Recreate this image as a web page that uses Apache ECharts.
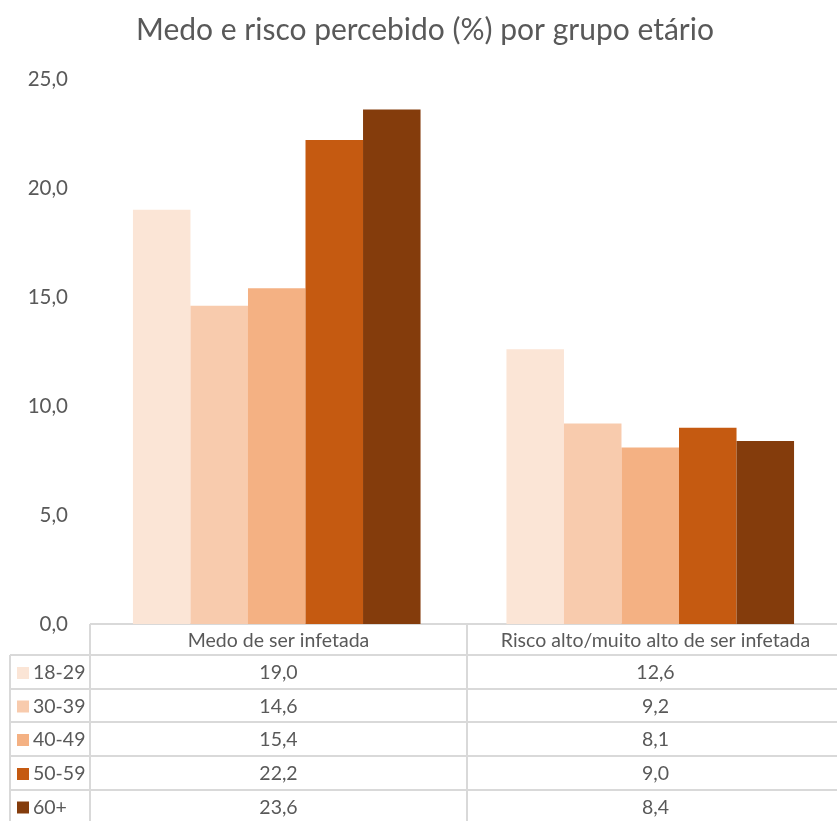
<!DOCTYPE html>
<html>
<head>
<meta charset="utf-8">
<script src="https://cdn.jsdelivr.net/npm/echarts@6/dist/echarts.min.js"></script>
<style>
  html, body { margin: 0; padding: 0; background: #fff; }
  #echarts { width: 837px; height: 821px; }
</style>
</head>
<body>
<div id="echarts"></div>
<script>
// dados
var categories = ['Medo de ser infetada', 'Risco alto/muito alto de ser infetada'];
var groups = ['18-29', '30-39', '40-49', '50-59', '60+'];
var s1829 = [19.0, 12.6];
var s3039 = [14.6, 9.2];
var s4049 = [15.4, 8.1];
var s5059 = [22.2, 9.0];
var s60 = [23.6, 8.4];
var yTicks = [0, 5, 10, 15, 20, 25];

var seriesData = [s1829, s3039, s4049, s5059, s60];
var colors = ['#fbe5d6', '#f8cbad', '#f4b183', '#c55a11', '#843c0c'];
var textColor = '#595959';
var lineColor = '#d9d9d9';
var font = 'Lato';

function fmt(v) { return v.toFixed(1).replace('.', ','); }

// posicoes da tabela (o grafico original passa um pouco da margem direita)
var gridLeft = 90, gridRight = -7, width = 837;
var axisY = 624;
var rowTops = [624, 655, 689, 722, 756, 790];
var colW = (width - gridLeft - gridRight) / categories.length;

var graphic = [];
// linhas horizontais
rowTops.forEach(function (y, i) {
    graphic.push({
        type: 'line', silent: true,
        shape: { x1: i === 0 ? gridLeft : 10, y1: y, x2: width, y2: y },
        style: { stroke: lineColor, lineWidth: 2 }
    });
});
// linhas verticais
graphic.push({ type: 'line', shape: { x1: 10, y1: 655, x2: 10, y2: 821 }, style: { stroke: lineColor, lineWidth: 2 } });
for (var c = 0; c < categories.length; c++) {
    var x = gridLeft + c * colW;
    graphic.push({ type: 'line', shape: { x1: x, y1: axisY, x2: x, y2: 821 }, style: { stroke: lineColor, lineWidth: 2 } });
}
// cabecalho
categories.forEach(function (cat, i) {
    graphic.push({
        type: 'text', silent: true,
        x: gridLeft + (i + 0.5) * colW, y: (rowTops[0] + rowTops[1]) / 2 + 1,
        style: { text: cat, fill: textColor, font: '19.5px ' + font, align: 'center', verticalAlign: 'middle' }
    });
});
// linhas de dados
groups.forEach(function (g, r) {
    var top = rowTops[r + 1];
    var bottom = r + 2 < rowTops.length ? rowTops[r + 2] : 823;
    var cy = (top + bottom) / 2 + 1;
    graphic.push({
        type: 'rect', silent: true,
        shape: { x: 17, y: cy - 6, width: 12, height: 12 },
        style: { fill: colors[r] }
    });
    graphic.push({
        type: 'text', silent: true, x: 33, y: cy,
        style: { text: g, fill: textColor, font: '19.5px ' + font, align: 'left', verticalAlign: 'middle' }
    });
    seriesData[r].forEach(function (v, i) {
        graphic.push({
            type: 'text', silent: true,
            x: gridLeft + (i + 0.5) * colW, y: cy,
            style: { text: fmt(v), fill: textColor, font: '19.5px ' + font, align: 'center', verticalAlign: 'middle' }
        });
    });
});

var option = {
    backgroundColor: '#fff',
    color: colors,
    animation: false,
    title: {
        text: 'Medo e risco percebido (%) por grupo etário',
        left: 420,
        textAlign: 'center',
        top: 10,
        textStyle: { color: textColor, fontSize: 30, fontWeight: 'normal', fontFamily: font }
    },
    grid: { left: gridLeft, right: gridRight, top: 79, bottom: 821 - axisY, containLabel: false },
    xAxis: {
        type: 'category',
        data: categories,
        axisLine: { show: false },
        axisTick: { show: false },
        axisLabel: { show: false }
    },
    yAxis: {
        type: 'value',
        min: yTicks[0],
        max: yTicks[yTicks.length - 1],
        interval: 5,
        axisLine: { show: false },
        axisTick: { show: false },
        splitLine: { show: false },
        axisLabel: {
            color: textColor, fontSize: 20.5, fontFamily: font, margin: 22,
            formatter: function (value) { return fmt(value); }
        }
    },
    series: groups.map(function (g, i) {
        return {
            name: g,
            type: 'bar',
            data: seriesData[i],
            barGap: '0%',
            barCategoryGap: '23%'
        };
    }),
    graphic: graphic
};

var myChart = echarts.init(document.getElementById('echarts'));
myChart.setOption(option);
</script>
</body>
</html>
